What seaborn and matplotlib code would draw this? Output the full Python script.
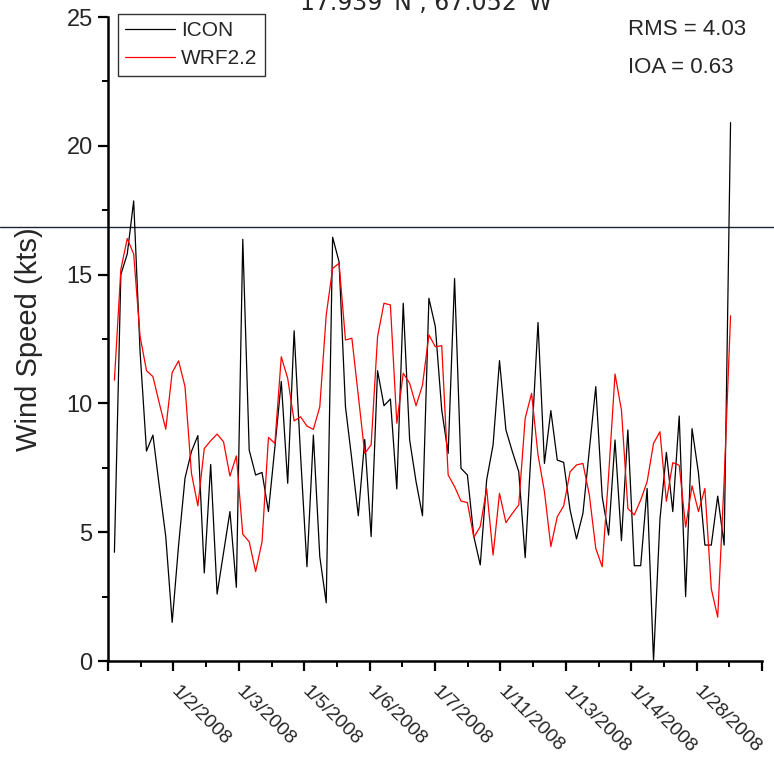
import numpy as np
import pandas as pd
import matplotlib
matplotlib.use("Agg")
import matplotlib.pyplot as plt
import seaborn as sns

icon = [4.22, 15.0, 15.8, 17.86, 12.0, 8.15, 8.77, 6.77, 4.83, 1.50,
        4.5, 7.1, 8.13, 8.75, 3.42, 7.63, 2.6, 4.2, 5.8, 2.86,
        16.37, 8.19, 7.22, 7.32, 5.8, 8.3, 10.85, 6.9, 12.82, 8.0,
        3.66, 8.77, 4.05, 2.26, 16.45, 15.5, 9.87, 7.8, 5.64, 8.6,
        4.83, 11.27, 9.91, 10.17, 6.68, 13.89, 8.58, 6.96, 5.64, 14.08,
        12.98, 9.74, 8.06, 14.85, 7.48, 7.22, 4.83, 3.73, 7.03, 8.39,
        11.66, 8.97, 8.13, 7.35, 4.01, 8.5, 13.14, 7.67, 9.72, 7.8,
        7.71, 5.86, 4.74, 5.73, 8.2, 10.65, 6.38, 4.89, 8.58, 4.67,
        8.97, 3.70, 3.70, 6.70, 0.0, 5.5, 8.1, 5.8, 9.51, 2.5,
        9.02, 7.3, 4.5, 4.5, 6.4, 4.5, 20.9]
wrf = [10.9, 15.2, 16.4, 15.8, 12.6, 11.27, 11.04, 10.0, 9.0, 11.2,
       11.65, 10.65, 7.29, 6.02, 8.25, 8.55, 8.81, 8.51, 7.18, 7.96,
       4.92, 4.63, 3.47, 4.63, 8.68, 8.45, 11.81, 10.97, 9.32, 9.48,
       9.12, 8.99, 9.87, 13.43, 15.24, 15.44, 12.46, 12.53, 10.3, 8.06,
       8.39, 12.59, 13.89, 13.82, 9.23, 11.17, 10.78, 9.91, 10.71, 12.66,
       12.2, 12.24, 7.22, 6.77, 6.21, 6.15, 4.80, 5.22, 6.68, 4.11,
       6.51, 5.37, 5.73, 6.06, 9.42, 10.39, 8.0, 6.58, 4.44, 5.6,
       6.02, 7.35, 7.61, 7.67, 6.44, 4.37, 3.66, 7.2, 11.14, 9.74,
       5.92, 5.67, 6.25, 6.96, 8.45, 8.9, 6.2, 7.7, 7.6, 5.2,
       6.8, 5.8, 6.7, 2.8, 1.7, 7.0, 13.4]
date_labels = ['1/2/2008', '1/3/2008', '1/5/2008', '1/6/2008', '1/7/2008',
               '1/11/2008', '1/13/2008', '1/14/2008', '1/28/2008']
series_names = ['ICON', 'WRF2.2']
ref_level = 16.85
stats_text = ['RMS = 4.03', 'IOA = 0.63']
title_text = '17.939°N , 67.052°W'

n = len(icon)
idx = np.arange(1, n + 1)
df = pd.DataFrame({'step': idx, series_names[0]: icon, series_names[1]: wrf})
long = df.melt(id_vars='step', var_name='model', value_name='speed')

sns.set_style('white')
plt.rcParams['font.family'] = ['Liberation Sans', 'DejaVu Sans']

fig = plt.figure(figsize=(7.74, 7.65), dpi=100)
ax = fig.add_axes([108/774, 1 - 661/765, 654/774, 644/765])

sns.lineplot(data=long, x='step', y='speed', hue='model',
             palette={'ICON': 'black', 'WRF2.2': '#ff0000'},
             linewidth=0.9, ax=ax, legend=True)

xmax = 101.9
ax.set_xlim(0, xmax)
ax.set_ylim(0, 25)
majors = np.linspace(0, xmax, 11)
minors = (majors[:-1] + majors[1:]) / 2
ax.set_xticks(majors)
ax.set_xticks(minors, minor=True)
ax.set_xticklabels([''] + date_labels + [''])
ax.set_yticks([0, 5, 10, 15, 20, 25])
ax.set_yticks(np.arange(2.5, 25, 5), minor=True)

ax.tick_params(axis='both', which='major', direction='out', length=7, width=1.6,
               labelsize=17, color='black', bottom=True, left=True)
ax.tick_params(axis='both', which='minor', direction='out', length=4, width=1.4,
               color='black', bottom=True, left=True)
ax.tick_params(axis='x', which='major', pad=13, labelsize=14)
ax.tick_params(axis='y', which='major', pad=4)

for lab in ax.get_xticklabels():
    lab.set_rotation(-45)
    lab.set_ha('left')
    lab.set_va('center')
    lab.set_rotation_mode('anchor')

for s in ['top', 'right']:
    ax.spines[s].set_visible(False)
for s in ['left', 'bottom']:
    ax.spines[s].set_linewidth(1.8)
    ax.spines[s].set_color('black')

ax.set_xlabel('')
ax.set_ylabel('Wind Speed (kts)', fontsize=21, labelpad=17)

ax.axhline(ref_level, xmin=-108/654, xmax=(774-108)/654, color='#1b2436',
           linewidth=1.0, clip_on=False, zorder=1)

leg = ax.legend(loc='upper left', bbox_to_anchor=(0.015, 1.005), fontsize=15,
                frameon=True, fancybox=False, edgecolor='#333333',
                framealpha=1, handlelength=2.4, borderpad=0.35,
                labelspacing=0.45, handletextpad=0.3, borderaxespad=0)
leg.get_frame().set_linewidth(1.0)
for line in leg.get_lines():
    line.set_linewidth(0.9)

ax.text(0.795, 0.98, stats_text[0], transform=ax.transAxes, fontsize=16,
        ha='left', va='center')
ax.text(0.795, 0.921, stats_text[1], transform=ax.transAxes, fontsize=16,
        ha='left', va='center')

fig.text(0.551, 1 - 10/765, title_text, fontsize=17, ha='center',
         va='baseline', family=['DejaVu Sans'])

fig.savefig('out.png', dpi=100)
